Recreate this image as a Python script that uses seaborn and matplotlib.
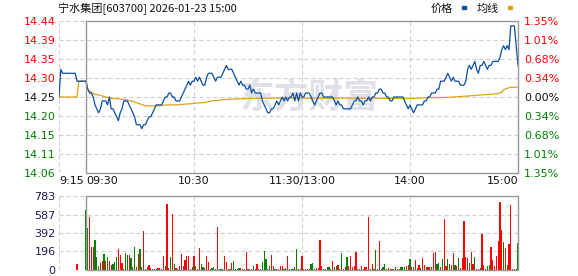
import matplotlib
matplotlib.use("Agg")
import matplotlib.pyplot as plt
from matplotlib.patches import Rectangle
import pandas as pd
import seaborn as sns

# ---------------- data ----------------
title_text = "宁水集团[603700] 2026-01-23 15:00"
legend_labels = ["价格", "均线"]
prev_close = 14.25
max_pct = 1.35

pre_minutes = list(range(-15, 0))
pre_prices = [14.25, 14.32, 14.31, 14.31, 14.31, 14.31, 14.31, 14.31, 14.31, 14.31,
              14.29, 14.29, 14.29, 14.29, 14.29]

session_prices = [
    14.29, 14.27, 14.26, 14.26, 14.25, 14.23, 14.22, 14.21, 14.22, 14.24,
    14.24, 14.24, 14.23, 14.25, 14.22, 14.22, 14.21, 14.20, 14.19, 14.21,
    14.22, 14.24, 14.24, 14.24, 14.23, 14.22, 14.21, 14.20, 14.18, 14.18,
    14.18, 14.17, 14.18, 14.18, 14.19, 14.20, 14.20, 14.21, 14.22, 14.23,
    14.23, 14.23, 14.23, 14.24, 14.25, 14.25, 14.26, 14.26, 14.25, 14.25,
    14.24, 14.24, 14.24, 14.25, 14.26, 14.27, 14.28, 14.29, 14.28, 14.29,
    14.29, 14.30, 14.29, 14.30, 14.29, 14.28, 14.28, 14.30, 14.31, 14.31,
    14.31, 14.30, 14.29, 14.30, 14.30, 14.30, 14.31, 14.32, 14.33, 14.32,
    14.32, 14.32, 14.31, 14.30, 14.29, 14.28, 14.29, 14.28, 14.28, 14.27,
    14.27, 14.28, 14.26, 14.27, 14.26, 14.26, 14.26, 14.26, 14.24, 14.23,
    14.22, 14.21, 14.21, 14.22, 14.22, 14.23, 14.24, 14.23, 14.24, 14.25,
    14.24, 14.25, 14.24, 14.25, 14.25, 14.26, 14.24, 14.26, 14.24, 14.26,
    14.25, 14.25, 14.26, 14.26, 14.26, 14.25, 14.24, 14.23, 14.24, 14.25,
    14.26, 14.26, 14.25, 14.25, 14.25, 14.25, 14.25, 14.25, 14.24, 14.23,
    14.24, 14.23, 14.23, 14.22, 14.22, 14.22, 14.22, 14.22, 14.23, 14.24,
    14.24, 14.25, 14.24, 14.24, 14.23, 14.24, 14.24, 14.25, 14.24, 14.25,
    14.25, 14.26, 14.26, 14.27, 14.27, 14.26, 14.26, 14.25, 14.25, 14.24,
    14.24, 14.25, 14.25, 14.25, 14.25, 14.25, 14.25, 14.24, 14.23, 14.22,
    14.23, 14.22, 14.21, 14.22, 14.23, 14.23, 14.23, 14.23, 14.24, 14.24,
    14.25, 14.25, 14.26, 14.26, 14.26, 14.27, 14.27, 14.29, 14.29, 14.29,
    14.30, 14.31, 14.30, 14.29, 14.30, 14.29, 14.29, 14.29, 14.28, 14.28,
    14.28, 14.29, 14.32, 14.33, 14.32, 14.33, 14.34, 14.32, 14.31, 14.33,
    14.33, 14.34, 14.33, 14.32, 14.33, 14.33, 14.34, 14.34, 14.34, 14.34,
    14.35, 14.37, 14.38, 14.37, 14.38, 14.37, 14.43, 14.43, 14.43, 14.38,
    14.33,
]

avg_minutes = [-15, -5, -4, 0, 1, 3, 5, 8, 11, 14, 18, 22, 25, 29, 33, 37, 40, 45, 50,
               55, 59, 62, 66, 70, 78, 90, 100, 120, 140, 160, 178, 190, 200, 211,
               219, 228, 231, 232, 235, 240]
avg_values = [14.25, 14.25, 14.29, 14.29, 14.268, 14.262, 14.257, 14.254, 14.250,
              14.247, 14.245, 14.243, 14.240, 14.234, 14.228, 14.227, 14.228, 14.230,
              14.230, 14.232, 14.233, 14.235, 14.236, 14.240, 14.244, 14.246, 14.247,
              14.247, 14.247, 14.247, 14.246, 14.248, 14.249, 14.252, 14.255, 14.258,
              14.262, 14.268, 14.274, 14.275]

pre_vol_minutes = [-5]
pre_volumes = [63]
pre_vol_dir = "R"

session_volumes = [
    635, 444, 564, 247, 247, 317, 141, 46, 70, 99,
    169, 99, 141, 99, 56, 63, 85, 141, 222, 162,
    74, 11, 183, 162, 162, 127, 35, 247, 28, 169,
    222, 35, 416, 11, 35, 56, 21, 11, 11, 11,
    21, 21, 11, 148, 46, 698, 21, 141, 592, 63,
    21, 11, 46, 169, 46, 106, 152, 152, 11, 35,
    148, 42, 11, 233, 63, 35, 21, 148, 81, 11,
    21, 35, 11, 458, 11, 11, 11, 148, 81, 11,
    11, 70, 99, 11, 11, 21, 21, 11, 11, 190,
    11, 11, 11, 46, 11, 63, 11, 11, 81, 205,
    116, 11, 46, 159, 46, 11, 11, 11, 46, 46,
    11, 21, 148, 11, 11, 11, 35, 219, 11, 11,
    148, 11, 11, 11, 11, 63, 74, 11, 21, 21,
    317, 46, 11, 11, 35, 35, 11, 99, 35, 46,
    56, 11, 183, 11, 28, 134, 46, 148, 28, 46,
    187, 11, 11, 46, 11, 35, 35, 564, 11, 63,
    11, 212, 11, 303, 11, 35, 63, 11, 21, 11,
    11, 11, 35, 11, 11, 35, 35, 35, 46, 56,
    116, 35, 35, 106, 21, 56, 21, 127, 56, 35,
    35, 35, 35, 183, 187, 63, 78, 35, 116, 540,
    46, 113, 63, 53, 176, 56, 46, 127, 21, 127,
    518, 134, 127, 78, 187, 63, 141, 11, 11, 21,
    381, 53, 11, 42, 56, 240, 106, 42, 148, 310,
    720, 423, 296, 229, 53, 275, 688, 11, 11, 11,
    289,
]
session_vol_dir = (
    "GGRRRGGGRR" "GRGRRGGGRR" "RGGGRGGGRR" "GGRGRRRRRR" "RRRRGRRGRG"
    "RRRRRRRRGG" "RGRRGGRRRG" "GGRRRRRRRG" "GRGGGGRRGR" "RRGGRRRGGG"
    "GRGRRGGRRR" "RGRRRRRGGG" "RRRRRGGGRR" "RRRRGGRRGG" "RRGRRGRRRR"
    "RRRRRRRRRR" "RGRRRGGGRR" "RRGRRGGGRR" "GRGRRRGRRG" "RRRRRGGRGR"
    "RGGRRGRGRR" "RRRGRRGRRG" "RRRGGRRRRR" "RRGRGRRRRG" "G"
)

time_ticks = [-15, 0, 60, 120, 180, 240]
time_labels = ["9:15", "09:30", "10:30", "11:30/13:00", "14:00", "15:00"]
price_labels = ["14.06", "14.11", "14.15", "14.20", "14.25", "14.30", "14.35", "14.39", "14.44"]
pct_labels = ["1.35%", "1.01%", "0.68%", "0.34%", "0.00%", "0.34%", "0.68%", "1.01%", "1.35%"]
vol_ticks = [0, 196, 392, 587, 783]
vol_labels = ["0", "196", "392", "587", "783"]

# ---------------- frames ----------------
session_minutes = list(range(0, 241))
price_df = pd.DataFrame({"minute": pre_minutes + session_minutes,
                         "price": pre_prices + session_prices})
avg_df = pd.DataFrame({"minute": avg_minutes, "avg": avg_values})
vol_df = pd.DataFrame({"minute": pre_vol_minutes + session_minutes,
                       "volume": pre_volumes + session_volumes,
                       "dir": list(pre_vol_dir + session_vol_dir)})

# ---------------- style ----------------
sns.set_theme(style="white")
plt.rcParams["font.family"] = ["DejaVu Sans", "Noto Sans CJK SC"]
CJK = ["Noto Sans CJK SC", "DejaVu Sans"]

BLUE = "#0c4fa3"
ORANGE = "#e0a11b"
RED = "#ff0000"
GREEN = "#008000"
GRID = "#cdcdcd"
BORDER = "#989898"
NAVY = "#1a1a50"
dash = (0, (3.6, 2.7))

W, H = 578, 276
fig = plt.figure(figsize=(W / 100, H / 100), dpi=100)
fig.patch.set_facecolor("white")

x0, x1 = 59, 518
ax = fig.add_axes([x0 / W, (H - 173) / H, (x1 - x0) / W, (173 - 21) / H])
axv = fig.add_axes([x0 / W, (H - 270) / H, (x1 - x0) / W, (270 - 196) / H])

span = prev_close * max_pct / 100
price_ticks = [prev_close + span * k / 4 for k in range(-4, 5)]

# watermark
ax.text(0.545, 0.5, "东方财富", transform=ax.transAxes, ha="center", va="center",
        fontsize=25, fontweight="bold", color="#e0e0e8", family=CJK, zorder=0)

sns.lineplot(data=avg_df, x="minute", y="avg", ax=ax, color=ORANGE, lw=0.9,
             estimator=None, sort=False, zorder=3)
sns.lineplot(data=price_df, x="minute", y="price", ax=ax, color=BLUE, lw=0.9,
             estimator=None, sort=False, zorder=4)

ax.set_xlim(-15, 240)
ax.set_ylim(price_ticks[0], price_ticks[-1])
ax.set_yticks(price_ticks)
ax.set_yticklabels(price_labels)
ax.set_xticks(time_ticks)
ax.set_xticklabels(time_labels)
ax.set_xlabel("")
ax.set_ylabel("")
for lbl, ha in zip(ax.get_xticklabels(), ["left", "left", "center", "center", "center", "right"]):
    lbl.set_ha(ha)
lab_colors = [GREEN] * 4 + ["#111111"] + [RED] * 4
for lbl, c in zip(ax.get_yticklabels(), lab_colors):
    lbl.set_color(c)
ax.tick_params(axis="y", length=0, pad=2.5, labelsize=8)
ax.tick_params(axis="x", length=0, pad=2, labelsize=8, labelcolor="#111111")
ax.grid(True, ls=dash, color=GRID, lw=0.8, zorder=0)
ax.set_axisbelow(True)
for s in ax.spines.values():
    s.set_visible(False)
ax.add_patch(Rectangle((15 / 255, 0), 240 / 255, 1, transform=ax.transAxes, fill=False,
                       ec=BORDER, lw=1.0, clip_on=False, zorder=6))

ax2 = ax.twinx()
ax2.set_ylim(price_ticks[0], price_ticks[-1])
ax2.set_yticks(price_ticks)
ax2.set_yticklabels(pct_labels)
for lbl, c in zip(ax2.get_yticklabels(), lab_colors):
    lbl.set_color(c)
ax2.tick_params(axis="y", length=0, pad=4.5, labelsize=8)
for s in ax2.spines.values():
    s.set_visible(False)
ax2.grid(False)

# volume: one seaborn bar call per colour
for key, col in (("R", RED), ("G", GREEN)):
    sub = vol_df[vol_df["dir"] == key]
    sns.barplot(data=sub, x="minute", y="volume", native_scale=True, color=col,
                width=0.6, saturation=1, errorbar=None, linewidth=0, ax=axv, zorder=3)
axv.set_xlim(-15, 240)
axv.set_ylim(0, 783)
axv.set_yticks(vol_ticks)
axv.set_yticklabels(vol_labels)
axv.set_xticks(time_ticks)
axv.set_xticklabels([])
axv.set_xlabel("")
axv.set_ylabel("")
axv.tick_params(axis="y", length=0, pad=2.5, labelsize=8, labelcolor=NAVY)
axv.tick_params(axis="x", length=0)
axv.grid(True, ls=dash, color=GRID, lw=0.8, zorder=0)
axv.set_axisbelow(True)
for s in axv.spines.values():
    s.set_visible(False)
axv.add_patch(Rectangle((15 / 255, 0), 240 / 255, 1, transform=axv.transAxes, fill=False,
                        ec=BORDER, lw=1.0, clip_on=False, zorder=6))

# title and legend
fig.text(58 / W, 1 - 8.5 / H, title_text, ha="left", va="center", fontsize=8,
         family=CJK, color="#111111")
fig.text(431 / W, 1 - 8.5 / H, legend_labels[0], ha="left", va="center", fontsize=8,
         family=CJK, color="#111111")
fig.text(477 / W, 1 - 8.5 / H, legend_labels[1], ha="left", va="center", fontsize=8,
         family=CJK, color="#111111")
fig.patches.append(Rectangle((461.5 / W, 1 - 9 / H), 4.5 / W, 2.5 / H,
                             transform=fig.transFigure, color=BLUE))
fig.patches.append(Rectangle((507.5 / W, 1 - 9 / H), 4.5 / W, 2.5 / H,
                             transform=fig.transFigure, color=ORANGE))

fig.savefig("out.png", dpi=100)
